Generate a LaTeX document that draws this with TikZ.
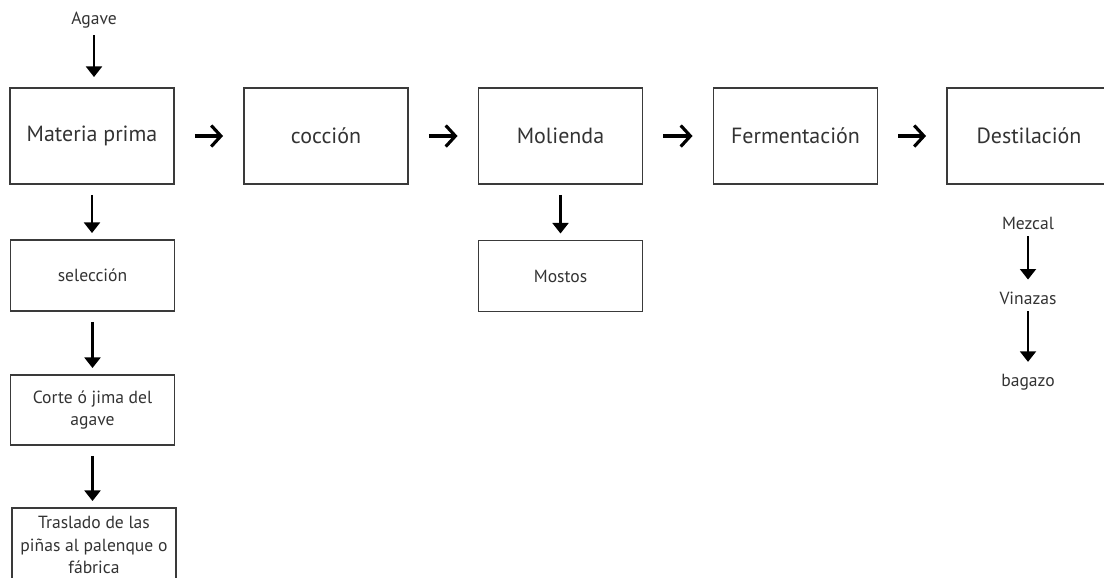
\documentclass[tikz,border=0pt]{standalone}
\usepackage{fontspec}
\setmainfont{PT Sans}
\usetikzlibrary{arrows.meta, positioning}
\definecolor{edge}{HTML}{3A3A3A}
\definecolor{txt}{HTML}{333333}
\tikzset{
  n/.style={draw=edge, line width=1.1pt, align=center, text=txt, font=\fontsize{12.5}{15}\selectfont, minimum width=32.8mm, minimum height=19.2mm, inner sep=2pt},
  ns/.style={n, font=\fontsize{10}{13}\selectfont, minimum height=14.2mm},
  t/.style={text=txt, font=\fontsize{10}{13}\selectfont, inner sep=1pt},
  ah/.style={-{Straight Barb[length=5.5pt, width=12pt, line width=1.8pt]}, line width=1.8pt, shorten <=4mm, shorten >=4mm},
  av/.style={-{Triangle[length=6pt, width=9pt]}, line width=1.4pt, shorten <=2mm, shorten >=1.2mm},
  avt/.style={av, shorten <=1mm, shorten >=2mm},
}
\begin{document}
\begin{tikzpicture}[x=1cm, y=1cm]
\path[use as bounding box, clip] (0,0) rectangle (22.08,-11.54);
% main line
\node[n] (mp)  at (1.84,  -2.72) {Materia prima};
\node[n] (coc) at (6.52,  -2.72) {cocción};
\node[n] (mol) at (11.21, -2.72) {Molienda};
\node[n] (fer) at (15.91, -2.72) {Fermentación};
\node[n] (des) at (20.58, -2.72) {Destilación};
% branches
\node[t]  (agv) at (1.88, -0.40) {Agave};
\node[ns] (sel) at (1.85, -5.51) {selección};
\node[ns, minimum height=14mm] (cor) at (1.85, -8.20) {Corte ó jima del\\agave};
\node[ns, minimum height=14.8mm] (tra) at (1.88, -10.90) {Traslado de las\\piñas al palenque o\\fábrica};
\node[ns] (mos) at (11.21, -5.52) {Mostos};
\node[t]  (mez) at (20.56, -4.46) {Mezcal};
\node[t]  (vin) at (20.56, -5.96) {Vinazas};
\node[t]  (bag) at (20.56, -7.64) {bagazo};

\draw[ah] (mp.east)  -- (coc.west);
\draw[ah] (coc.east) -- (mol.west);
\draw[ah] (mol.east) -- (fer.west);
\draw[ah] (fer.east) -- (des.west);
\draw[avt] (agv.south) -- (agv.south |- mp.north);
\draw[av] (mp.south)  -- (mp.south |- sel.north);
\draw[av] (sel.south) -- (sel.south |- cor.north);
\draw[av] (cor.south) -- (cor.south |- tra.north);
\draw[av] (mol.south) -- (mol.south |- mos.north);
\draw[avt] (mez.south) -- (vin.north);
\draw[avt] (vin.south) -- (bag.north);
\end{tikzpicture}
\end{document}
